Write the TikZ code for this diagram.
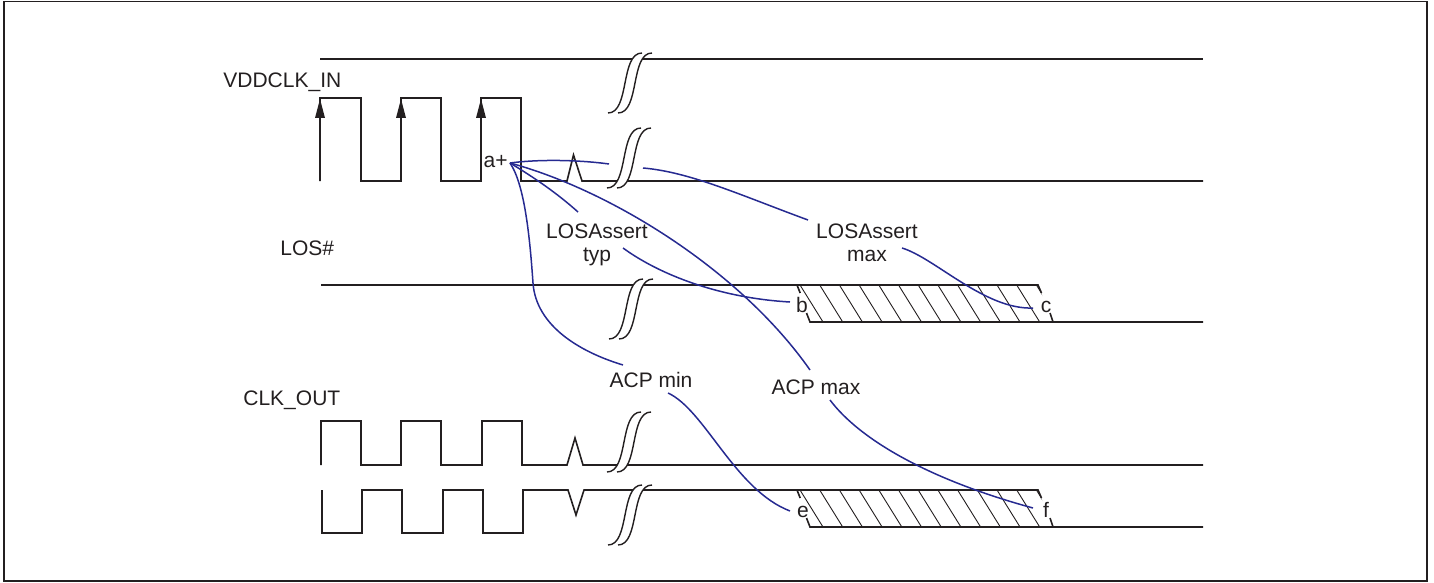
\documentclass[tikz,border=0pt]{standalone}
\usepackage{fontspec}
\setmainfont{Liberation Sans}
\definecolor{ink}{RGB}{35,31,32}
\definecolor{navy}{RGB}{38,42,145}
\newcommand{\brkmark}[2]{%
  \fill[white] (#1-17,#2+30) .. controls (#1-6,#2+30) and (#1-3,#2+15) .. (#1,#2)
     .. controls (#1+3,#2-15) and (#1+6,#2-30) .. (#1+17,#2-30) -- (#1+27,#2-30)
     .. controls (#1+16,#2-30) and (#1+13,#2-15) .. (#1+10,#2)
     .. controls (#1+7,#2+15) and (#1+4,#2+30) .. (#1-7,#2+30) -- cycle;
  \draw[brkline] (#1-17,#2+30) .. controls (#1-6,#2+30) and (#1-3,#2+15) .. (#1,#2)
     .. controls (#1+3,#2-15) and (#1+6,#2-30) .. (#1+17,#2-30);
  \draw[brkline] (#1-7,#2+30) .. controls (#1+4,#2+30) and (#1+7,#2+15) .. (#1+10,#2)
     .. controls (#1+13,#2-15) and (#1+16,#2-30) .. (#1+27,#2-30);
}
\newcommand{\hatchzone}[2]{%
  \begin{scope}
    \clip (797,#1) -- (1038,#1) -- (1053,#2) -- (810,#2) -- cycle;
    \foreach \k in {-1,...,13} \draw[hatchline] (800+19.7*\k,#1) -- ++(23,37);
  \end{scope}
  \draw[sig] (797,#1) -- (800.2,#1+8);
  \draw[sig] (806.5,#2-9) -- (810,#2) -- (1203,#2);
  \draw[sig] (1050,#2-9) -- (1053,#2);
}
\begin{document}
\begin{tikzpicture}[x=0.5pt,y=-0.5pt,
  sig/.style={line width=0.8pt, draw=ink, line join=miter},
  brkline/.style={line width=0.7pt, draw=ink},
  hatchline/.style={line width=0.45pt, draw=ink},
  conn/.style={line width=0.75pt, draw=navy},
  lbl/.style={font=\fontsize{10.5}{11.5}\selectfont, text=ink, inner sep=0pt},
  uparrow/.style={fill=ink}]
\useasboundingbox (0,0) rectangle (1434,583);
\draw[line width=0.75pt, ink] (4,1.5) rectangle (1427,581);

% signal names
\node[lbl, anchor=base west] (vdd) at (223,88) {VDDCLK\_IN};
\node[lbl, anchor=base west] (los) at (280,255) {LOS\#};
\node[lbl, anchor=base west] (clkout) at (243,405) {CLK\_OUT};

% top line
\draw[sig] (320,59) -- (1203,59);

% input clock
\draw[sig] (320,181) -- (320,98) -- (361,98) -- (361,181) -- (401,181) -- (401,98)
  -- (441,98) -- (441,181) -- (481,181) -- (481,98) -- (521,98) -- (521,181)
  -- (567,181) -- (573.5,155) -- (582,181) -- (1203,181);
\foreach \x in {320,401,481} \fill[uparrow] (\x,99) -- (\x-5,118) -- (\x+5,118) -- cycle;

% LOS#
\draw[sig] (321,285) -- (1038,285) -- (1041.5,293);
\hatchzone{285}{322}

% CLK_OUT true
\draw[sig] (321,465) -- (321,421) -- (361,421) -- (361,465) -- (401,465) -- (401,421)
  -- (441,421) -- (441,465) -- (482,465) -- (482,421) -- (522,421) -- (522,465)
  -- (567,465) -- (575,438) -- (583,465) -- (1203,465);

% CLK_OUT complement
\draw[sig] (322,490) -- (322,533) -- (362,533) -- (362,490) -- (402,490) -- (402,533)
  -- (443,533) -- (443,490) -- (483,490) -- (483,533) -- (523,533) -- (523,490)
  -- (568,490) -- (576,515) -- (584,490) -- (1038,490) -- (1041.5,498);
\hatchzone{490}{527}

% break marks
\brkmark{625}{83}
\brkmark{624}{158}
\brkmark{626}{309}
\brkmark{624}{442}
\brkmark{625}{515}

% annotation labels
\node[lbl, anchor=base east] (alab) at (508,168) {a+};
\coordinate (a) at (510,163);
\node[lbl, align=center, anchor=north] (typ) at (597,223) {LOSAssert\\typ};
\node[lbl, align=center, anchor=north] (max) at (867,223) {LOSAssert\\max};
\node[lbl, anchor=base] (acpmin) at (651,387) {ACP min};
\node[lbl, anchor=base] (acpmax) at (816,394) {ACP max};
\node[lbl, anchor=base] (b) at (802,312) {b};
\node[lbl, anchor=base] (c) at (1046,312) {c};
\node[lbl, anchor=base] (e) at (803,517) {e};
\node[lbl, anchor=base] (f) at (1046,517) {f};

% connector ends
\coordinate (typIn) at (578,212);
\coordinate (g1) at (609,164);
\coordinate (g2) at (643,168);
\coordinate (maxIn) at (808,220);
\coordinate (acpmaxIn) at (810,370);
\coordinate (acpminIn) at (623,365);
\coordinate (typOut) at (623,248);
\coordinate (bIn) at (790,302);
\coordinate (maxOut) at (902,248);
\coordinate (cIn) at (1033,308);
\coordinate (acpminOut) at (668,393);
\coordinate (eIn) at (790,511);
\coordinate (acpmaxOut) at (830,400);
\coordinate (fIn) at (1033,508);

% connectors
\draw[conn] (a) .. controls (535,178) and (558,194) .. (typIn);
\draw[conn] (a) .. controls (540,159) and (580,160) .. (g1);
\draw[conn] (g2) .. controls (690,172) and (740,195) .. (maxIn);
\draw[conn] (a) .. controls (610,190) and (740,270) .. (acpmaxIn);
\draw[conn] (a) .. controls (525,185) and (530,240) .. (533,283)
  .. controls (536,326) and (580,352) .. (acpminIn);
\draw[conn] (typOut) .. controls (660,275) and (720,298) .. (bIn);
\draw[conn] (maxOut) .. controls (935,258) and (985,310) .. (cIn);
\draw[conn] (acpminOut) .. controls (705,410) and (735,490) .. (eIn);
\draw[conn] (acpmaxOut) .. controls (860,440) and (930,480) .. (fIn);
\end{tikzpicture}
\end{document}
